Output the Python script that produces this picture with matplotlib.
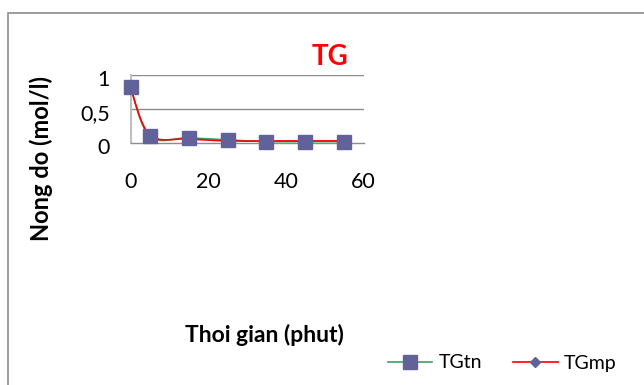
import matplotlib
matplotlib.use("Agg")
import matplotlib.pyplot as plt
import matplotlib.transforms as mtransforms
from matplotlib.path import Path
from matplotlib.patches import PathPatch, Rectangle
from matplotlib.lines import Line2D
import numpy as np

plt.rcParams['font.family'] = ['Lato', 'DejaVu Sans']

# Time (minutes) and concentrations (mol/l)
time_min = [0, 5, 15, 25, 35, 45, 55]
tg_tn = [0.82, 0.10, 0.08, 0.05, 0.025, 0.025, 0.025]
tg_mp = [0.82, 0.12, 0.065, 0.035, 0.035, 0.035, 0.035]

series_names = ["TGtn", "TGmp"]
x_ticks = [0, 20, 40, 60]
y_ticks = [0, 0.5, 1]
y_tick_labels = ["0", "0,5", "1"]

GREEN = "#3f9e6b"
RED = "#ff0000"
MARKER = "#62629a"


def smooth_path(xs, ys):
    """Cubic Bezier path through the points (Catmull-Rom style control points)."""
    pts = np.column_stack([xs, ys]).astype(float)
    n = len(pts)
    verts = [pts[0]]
    codes = [Path.MOVETO]
    for i in range(n - 1):
        p0 = pts[i - 1] if i > 0 else pts[i]
        p1 = pts[i]
        p2 = pts[i + 1]
        p3 = pts[i + 2] if i + 2 < n else pts[i + 1]
        c1 = p1 + (p2 - p0) / 6.0
        c2 = p2 - (p3 - p1) / 6.0
        verts += [c1, c2, p2]
        codes += [Path.CURVE4] * 3
    return Path(verts, codes)


fig = plt.figure(figsize=(6.44, 3.85), dpi=100)

# outer chart frame
fig.patches.append(Rectangle((7.5 / 644, -0.1), 1.2, 1 - 13.5 / 385 + 0.1,
                             transform=fig.transFigure, fill=False,
                             edgecolor="#8c8c8c", linewidth=1.2))

ax = fig.add_axes([130.5 / 644, 1 - 143.3 / 385, 233 / 644, 68.3 / 385])
ax.set_xlim(0, 60)
ax.set_ylim(0, 1)

for s in ["top", "right"]:
    ax.spines[s].set_visible(False)
ax.spines["left"].set_color("#bfbfbf")
ax.spines["left"].set_linewidth(1.5)
ax.spines["bottom"].set_color("#8c8c8c")
ax.spines["bottom"].set_linewidth(1.0)

for yv in y_ticks[1:]:
    ax.axhline(yv, color="#8c8c8c", linewidth=1.0, zorder=1)

ax.set_xticks(x_ticks)
ax.set_xticklabels([str(v) for v in x_ticks])
ax.set_yticks(y_ticks)
ax.set_yticklabels(y_tick_labels)
ax.tick_params(axis="both", length=0, labelsize=15.5, colors="black")
ax.tick_params(axis="x", pad=21)
ax.tick_params(axis="y", pad=15)
shift = mtransforms.ScaledTranslation(0, -3 / 100, fig.dpi_scale_trans)
for lbl in ax.get_yticklabels():
    lbl.set_transform(lbl.get_transform() + shift)

# smoothed series lines
ax.add_patch(PathPatch(smooth_path(time_min, tg_tn), facecolor="none",
                       edgecolor=GREEN, linewidth=1.2, zorder=3, clip_on=False))
ax.add_patch(PathPatch(smooth_path(time_min, tg_mp), facecolor="none",
                       edgecolor=RED, linewidth=1.2, zorder=4, clip_on=False))

# markers
ax.plot(time_min, tg_mp, linestyle="none", marker="D", markersize=5,
        color=MARKER, zorder=5, clip_on=False)
ax.plot(time_min, tg_tn, linestyle="none", marker="s", markersize=10,
        color=MARKER, zorder=6, clip_on=False)

fig.text(330 / 644, 1 - 57 / 385, "TG", color=RED, fontsize=20,
         fontweight="bold", ha="center", va="center")
fig.text(41 / 644, 1 - 158.5 / 385, "Nong do (mol/l)", rotation=90,
         fontsize=17, fontweight="bold", ha="center", va="center")
fig.text(264 / 644, 1 - 335 / 385, "Thoi gian (phut)",
         fontsize=16.5, fontweight="bold", ha="center", va="center")

handles = [
    Line2D([], [], color=GREEN, linewidth=1.2, marker="s", markersize=10,
           markerfacecolor=MARKER, markeredgecolor=MARKER),
    Line2D([], [], color=RED, linewidth=1.2, marker="D", markersize=5,
           markerfacecolor=MARKER, markeredgecolor=MARKER),
]
fig.legend(handles, series_names, loc="center", ncol=2, frameon=False,
           bbox_to_anchor=(502 / 644, 1 - 363 / 385), fontsize=14,
           handlelength=2.3, handletextpad=0.3, columnspacing=1.6)

fig.savefig("out.png", dpi=100, facecolor="white")
